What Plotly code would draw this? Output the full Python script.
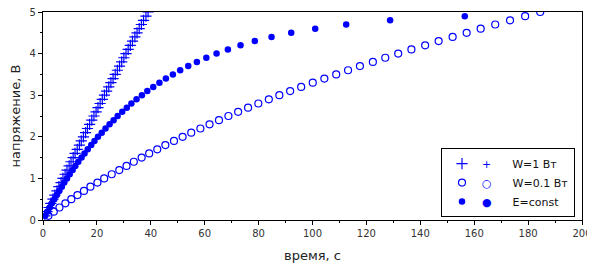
import plotly.graph_objects as go

# --- data (time in s, voltage in V) ---
v_w1 = [0.1,0.2,0.3,0.4,0.5,0.6,0.7,0.8,0.9,1.0,1.1,1.2,1.3,1.4,1.5,1.6,1.7,1.8,1.9,2.0,
        2.1,2.2,2.3,2.4,2.5,2.6,2.7,2.8,2.9,3.0,3.1,3.2,3.3,3.4,3.5,3.6,3.7,3.8,3.9,4.0,
        4.1,4.2,4.3,4.4,4.5,4.6,4.7,4.8,4.9,5.0]
t_w1 = [0.7,1.5,2.2,2.9,3.7,4.4,5.2,5.9,6.7,7.4,8.2,8.9,9.7,10.4,11.2,11.9,12.7,13.5,14.2,15.0,
        15.8,16.5,17.3,18.1,18.9,19.7,20.4,21.2,22.0,22.8,23.6,24.4,25.2,26.0,26.8,27.6,28.4,29.2,30.0,30.8,
        31.6,32.4,33.2,34.1,34.9,35.7,36.5,37.3,38.2,39.0]

v_w01 = v_w1
t_w01 = [2.0,4.0,6.1,8.3,10.5,12.8,15.2,17.6,20.2,22.7,25.5,28.3,31.0,33.7,36.6,39.4,42.4,45.4,48.6,51.8,
         55.0,58.4,61.8,65.3,68.8,72.4,76.1,79.9,83.8,87.7,91.7,95.8,100.1,104.4,108.8,113.2,117.6,122.4,127.0,131.8,
         136.7,141.8,146.8,152.0,157.2,162.4,167.8,173.3,178.9,184.5]

v_e = [0.1,0.2,0.3,0.4,0.5,0.6,0.7,0.8,0.9,1.0,1.1,1.2,1.3,1.4,1.5,1.6,1.7,1.8,1.9,2.0,
       2.1,2.2,2.3,2.4,2.5,2.6,2.7,2.8,2.9,3.0,3.1,3.2,3.3,3.4,3.5,3.6,3.7,3.8,3.9,4.0,
       4.1,4.2,4.3,4.4,4.5,4.6,4.7,4.8,4.9]
t_e = [0.8,1.6,2.5,3.3,4.2,5.1,6.0,7.0,7.9,8.9,9.9,11.0,12.0,13.1,14.3,15.4,16.6,17.9,19.1,20.4,
       21.8,23.2,24.7,26.2,27.7,29.4,31.1,32.8,34.7,36.7,38.7,40.9,43.2,45.6,48.2,50.9,53.9,57.1,60.6,64.4,
       68.6,73.3,78.6,84.8,92.1,101.0,112.5,128.8,156.5]

BLUE = "#0000ff"
FONT = "DejaVu Sans"

fig = go.Figure()
fig.add_trace(go.Scatter(
    x=t_w1, y=v_w1, mode="markers",
    name='<span style="color:#0000ff">+</span>      W=1 Вт',
    marker=dict(symbol="cross-thin", size=8, color=BLUE, line=dict(color=BLUE, width=1.2)),
))
fig.add_trace(go.Scatter(
    x=t_w01, y=v_w01, mode="markers",
    name='<span style="color:#0000ff">○</span>      W=0.1 Вт',
    marker=dict(symbol="circle-open", size=7, color=BLUE, line=dict(color=BLUE, width=1.2)),
))
fig.add_trace(go.Scatter(
    x=t_e, y=v_e, mode="markers",
    name='<span style="color:#0000ff">●</span>      E=const',
    marker=dict(symbol="circle", size=6.5, color=BLUE),
))

axis_common = dict(
    showgrid=False, zeroline=False, automargin=False,
    showline=True, linecolor="black", linewidth=1.2, mirror=True,
    ticks="outside", ticklen=4, tickcolor="black", tickwidth=1,
    ticklabeloverflow="allow",
    tickfont=dict(family=FONT, size=10, color="#333333"),
)

fig.update_xaxes(range=[0, 200], dtick=20, tick0=0,
                 minor=dict(dtick=10, ticks="outside", ticklen=2, tickcolor="black"),
                 title=dict(text="время, с", font=dict(family=FONT, size=13, color="#222222"), standoff=12),
                 **axis_common)
fig.update_yaxes(range=[0, 5], dtick=1, tick0=0,
                 minor=dict(dtick=0.5, ticks="outside", ticklen=2, tickcolor="black"),
                 title=dict(text="напряжение, В", font=dict(family=FONT, size=13, color="#222222"), standoff=8),
                 **axis_common)

# the page body adds an 8px offset; margins compensate so the plot box lands at x 43..582, y 12..220
fig.update_layout(
    width=595, height=267,
    margin=dict(l=35, r=21, t=4, b=55),
    paper_bgcolor="white", plot_bgcolor="white",
    font=dict(family=FONT, size=11, color="#222222"),
    legend=dict(
        x=0.987, y=0.014, xanchor="right", yanchor="bottom",
        bgcolor="white", bordercolor="black", borderwidth=1,
        font=dict(family=FONT, size=11, color="#111111"),
        itemwidth=30, tracegroupgap=0,
    ),
)

fig.write_html("out.html")
